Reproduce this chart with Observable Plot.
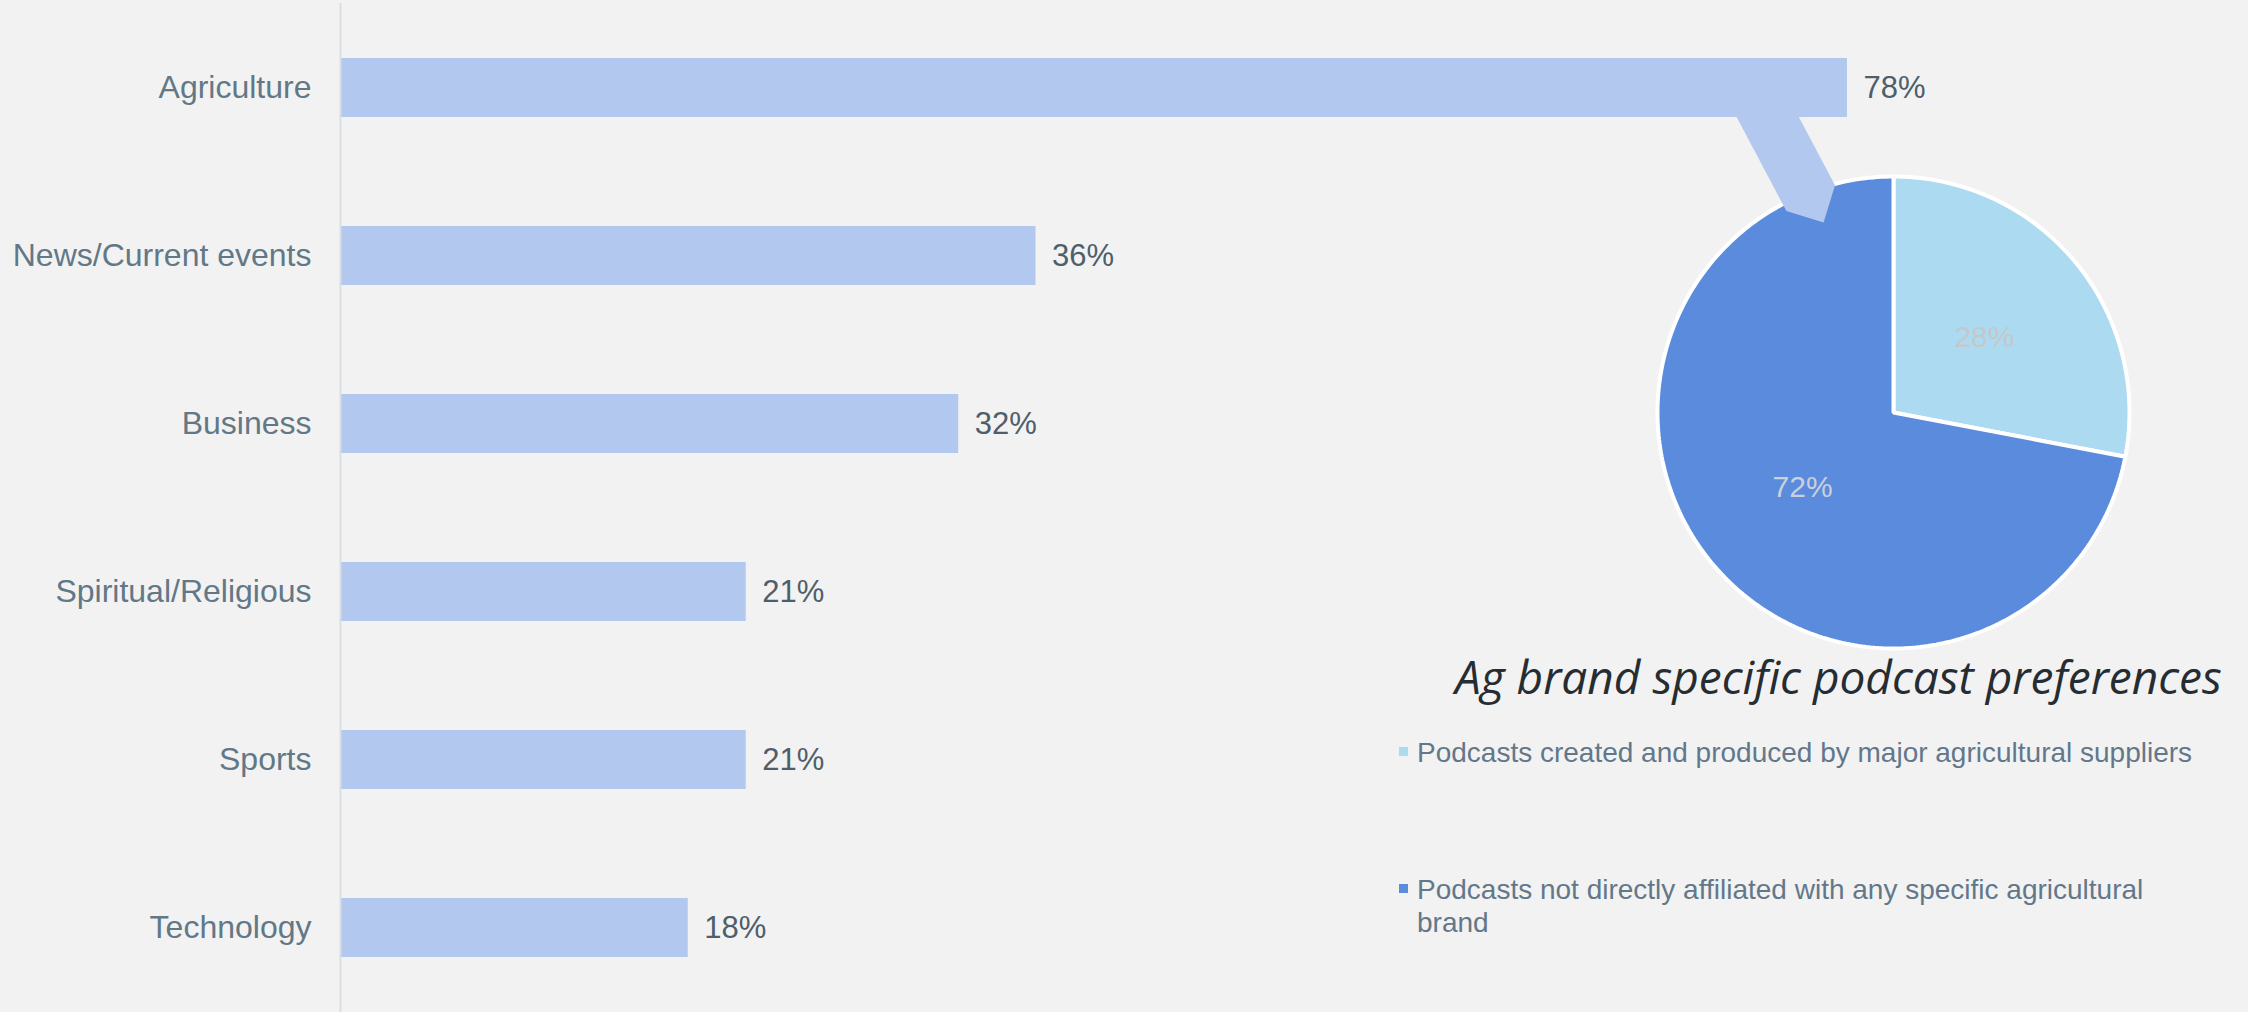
<!DOCTYPE html>
<html>
<head>
<meta charset="utf-8">
<script src="https://cdn.jsdelivr.net/npm/d3@7"></script>
<script src="https://cdn.jsdelivr.net/npm/@observablehq/plot@0.6"></script>
<style>
  html, body { margin: 0; padding: 0; background: #f2f2f2; }
  #stage { position: relative; width: 2248px; height: 1012px; overflow: hidden; background: #f2f2f2; }
  #stage svg { position: absolute; left: 0; top: 0; }
  .pie-title {
    position: absolute; left: 1455px; top: 653px;
    font-family: "Open Sans", Lato, sans-serif; font-style: italic; font-weight: 400; font-size: 46px;
    line-height: 46px; color: #252d33; white-space: nowrap;
  }
  .legend-item {
    position: absolute; left: 1399px; width: 790px; padding-left: 18px;
    font-family: "Liberation Sans", Arial, sans-serif; font-size: 28px; line-height: 33px;
    color: #62788a;
  }
  .legend-item .swatch { position: absolute; left: 0; top: 11px; width: 9px; height: 9px; }
</style>
</head>
<body>
<div id="stage"></div>
<script>
// Topic preferences (share of respondents, %)
const categories = ["Agriculture", "News/Current events", "Business", "Spiritual/Religious", "Sports", "Technology"];
const shares = [78, 36, 32, 21, 21, 18];

// Breakdown of the Agriculture answer
const pieTitle = "Ag brand specific podcast preferences";
const pieNames = [
  "Podcasts created and produced by major agricultural suppliers",
  "Podcasts not directly affiliated with any specific agricultural brand"
];
const pieValues = [28, 72];
const pieColors = ["#acdaf0", "#5b8bdd"];
const pieLabelColors = ["#c4c8cc", "#c9d1da"];

const W = 2248, H = 1012;
const BAR_COLOR = "#b3c8ee";
const FONT = "'Liberation Sans', Arial, Helvetica, sans-serif";

const barData = categories.map((c, i) => ({category: c, share: shares[i]}));

// Horizontal bar chart
const bars = Plot.plot({
  width: W, height: H,
  marginLeft: 340, marginRight: 0, marginTop: 3, marginBottom: 0,
  style: {background: "transparent", fontFamily: FONT, fontSize: "31px", overflow: "visible"},
  x: {domain: [0, 98.76], axis: null},
  y: {domain: categories, paddingInner: 0.65, paddingOuter: 0.325, label: null},
  marks: [
    Plot.barX(barData, {x: "share", y: "category", fill: BAR_COLOR}),
    Plot.ruleX([0], {stroke: "#d9dee3", strokeWidth: 2}),
    Plot.text(barData, {
      x: "share", y: "category", text: d => `${d.share}%`,
      dx: 16, textAnchor: "start", fill: "#4e5e6a", fontSize: 31
    }),
    Plot.axisY({tickSize: 0, tickPadding: 29, fontSize: 32, color: "#627887", label: null})
  ]
});

// Pie geometry, in units of the pie radius around its centre
const PIE = {cx: 1893, cy: 412, r: 236};
const arcs = d3.pie().sort(null)(pieValues);
const slicePolygon = a => {
  const n = Math.max(2, Math.ceil((a.endAngle - a.startAngle) / (Math.PI / 180)));
  const pts = [{x: 0, y: 0}];
  for (let k = 0; k <= n; ++k) {
    const t = a.startAngle + (a.endAngle - a.startAngle) * k / n;
    pts.push({x: Math.sin(t), y: Math.cos(t)});
  }
  return pts;
};

// Callout linking the Agriculture bar to the pie: an arrow-tipped band
// running from the bar's centre line down into the larger slice
const ys = bars.scale("y");
const agCentre = ys.apply(categories[0]) + ys.bandwidth / 2;
const topY = (PIE.cy - agCentre) / PIE.r;
const tipAngle = -20.2 * Math.PI / 180, tipRadius = 0.858;
const tip = {x: tipRadius * Math.sin(tipAngle), y: tipRadius * Math.cos(tipAngle)};
const u = {x: -0.468, y: 0.884};          // along the callout, upwards
const nrm = {x: 0.884, y: 0.468};         // across the callout
const hw = 27.5 / PIE.r;                  // half width
const shoulder = {x: tip.x + u.x * hw, y: tip.y + u.y * hw};
const upX = tip.x + u.x * (topY - tip.y) / u.y;
const callout = [
  {x: tip.x, y: tip.y},
  {x: shoulder.x + nrm.x * hw, y: shoulder.y + nrm.y * hw},
  {x: upX + hw / u.y, y: topY},
  {x: upX - hw / u.y, y: topY},
  {x: shoulder.x - nrm.x * hw, y: shoulder.y - nrm.y * hw}
];

const pie = Plot.plot({
  width: W, height: H, margin: 0,
  style: {background: "#f2f2f2", fontFamily: FONT, overflow: "visible"},
  x: {domain: [-PIE.cx / PIE.r, (W - PIE.cx) / PIE.r], axis: null},
  y: {domain: [-(H - PIE.cy) / PIE.r, PIE.cy / PIE.r], axis: null},
  marks: [
    ...arcs.map((a, i) => Plot.line(slicePolygon(a), {
      x: "x", y: "y", curve: "linear-closed",
      fill: pieColors[i], stroke: "white", strokeWidth: 4, strokeLinejoin: "miter"
    })),
    Plot.line(callout, {x: "x", y: "y", curve: "linear-closed", fill: BAR_COLOR, stroke: "none"}),
    Plot.text(arcs, {
      x: a => 0.5 * Math.sin((a.startAngle + a.endAngle) / 2),
      y: a => 0.5 * Math.cos((a.startAngle + a.endAngle) / 2),
      text: a => `${a.data}%`,
      fill: (a, i) => pieLabelColors[i], fontSize: 30
    })
  ]
});

const stage = document.getElementById("stage");
stage.appendChild(pie);
stage.appendChild(bars);

const titleEl = document.createElement("div");
titleEl.className = "pie-title";
titleEl.textContent = pieTitle;
stage.appendChild(titleEl);

const legendTops = [736, 873];
pieNames.forEach((name, i) => {
  const item = document.createElement("div");
  item.className = "legend-item";
  item.style.top = legendTops[i] + "px";
  const sw = document.createElement("span");
  sw.className = "swatch";
  sw.style.background = pieColors[i];
  item.appendChild(sw);
  item.appendChild(document.createTextNode(name));
  stage.appendChild(item);
});
</script>
</body>
</html>
